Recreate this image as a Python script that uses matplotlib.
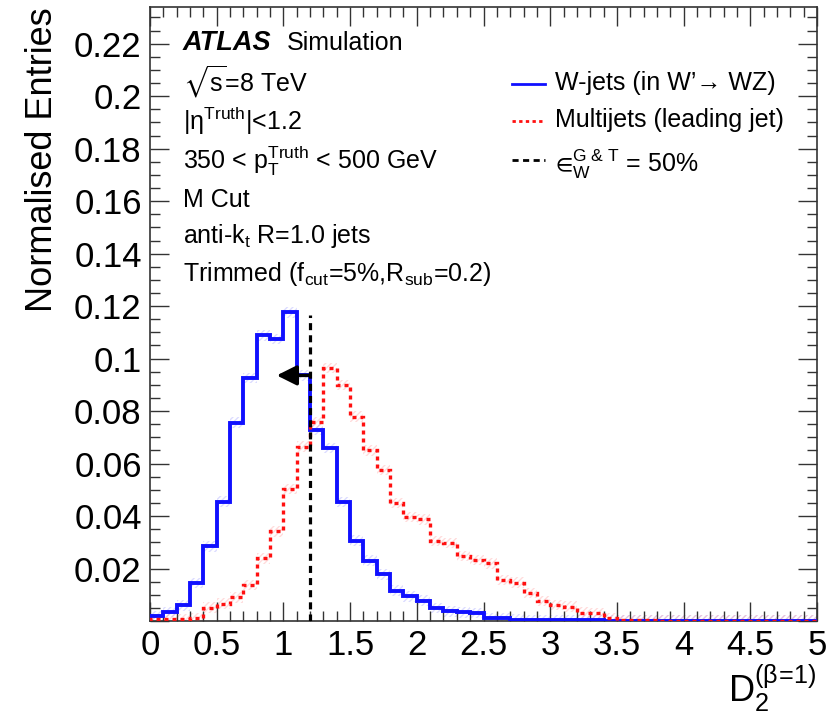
import numpy as np
import matplotlib
matplotlib.use('Agg')
import matplotlib.pyplot as plt
from matplotlib.ticker import MultipleLocator

plt.rcParams['font.family'] = ['Liberation Sans', 'DejaVu Sans']
plt.rcParams['mathtext.fontset'] = 'custom'
plt.rcParams['mathtext.rm'] = 'Liberation Sans'
plt.rcParams['mathtext.it'] = 'Liberation Sans:italic'
plt.rcParams['mathtext.bf'] = 'Liberation Sans:bold'
plt.rcParams['mathtext.fallback'] = 'stixsans'
plt.rcParams['hatch.linewidth'] = 1.0

# %% data: D2 histograms, 50 bins of 0.1 from 0 to 5
edges = np.round(np.arange(0, 5.01, 0.1), 2)

wjets = [0.0019, 0.0035, 0.0060, 0.0145, 0.0284, 0.0455, 0.0756, 0.0926, 0.1089, 0.1074,
         0.1176, 0.0936, 0.0729, 0.0660, 0.0453, 0.0306, 0.0230, 0.0178, 0.0116, 0.0094,
         0.0078, 0.0050, 0.0037, 0.0033, 0.0031, 0.0010, 0.0010, 0.0005, 0.0004, 0.0004,
         0.0004, 0.0002, 0.0002, 0.0002, 0.0001, 0.0001, 0.0001, 0.0001, 0.0001, 0.0001,
         0.0001, 0.0001, 0.0001, 0.0001, 0.0001, 0.0001, 0.0001, 0.0001, 0.0001, 0.0001]

multijets = [0.0008, 0.0007, 0.0006, 0.0010, 0.0051, 0.0066, 0.0090, 0.0137, 0.0239, 0.0342,
             0.0503, 0.0665, 0.0757, 0.0965, 0.0899, 0.0779, 0.0650, 0.0576, 0.0450, 0.0396,
             0.0387, 0.0304, 0.0298, 0.0248, 0.0233, 0.0220, 0.0156, 0.0146, 0.0106, 0.0076,
             0.0061, 0.0055, 0.0032, 0.0029, 0.0010, 0.0004, 0.0003, 0.0002, 0.0001, 0.0001,
             0.0001, 0.0001, 0.0001, 0.0001, 0.0001, 0.0001, 0.0001, 0.0001, 0.0001, 0.0001]

cut_value = 1.2      # 50% W efficiency cut
cut_top = 0.1165
arrow_y = 0.0936
arrow_end = 0.95

wjets = np.array(wjets)
multijets = np.array(multijets)
err = 0.002

# %% plot
fig = plt.figure(figsize=(8.36, 7.18), dpi=100)
ax = fig.add_axes([150 / 836, 1 - 621 / 718, 667 / 836, 614 / 718])

# faint hatched bands around the steps
ax.stairs(wjets + err, edges, baseline=wjets - err, fill=True, hatch='//////',
          facecolor='none', edgecolor=(0.55, 0.55, 1.0, 0.3), lw=0)
ax.stairs(multijets + err, edges, baseline=multijets - err, fill=True, hatch='//////',
          facecolor='none', edgecolor=(1.0, 0.55, 0.55, 0.3), lw=0)

ax.stairs(wjets, edges, color='#1010ff', lw=2.8, zorder=3)
ax.stairs(multijets, edges, color='#ff1010', lw=2.4, linestyle=(0, (1.2, 1.2)), zorder=3)

ax.vlines(cut_value, 0, cut_top, color='black', lw=2.3, linestyles=(0, (2.2, 1.6)), zorder=4)
ax.annotate('', xy=(arrow_end, arrow_y), xytext=(cut_value, arrow_y),
            arrowprops=dict(arrowstyle='-|>', lw=2.5, color='black', mutation_scale=30,
                            shrinkA=0, shrinkB=0), zorder=5)

ax.set_xlim(0, 5)
ax.set_ylim(0, 0.234)
ax.xaxis.set_major_locator(MultipleLocator(0.5))
ax.xaxis.set_minor_locator(MultipleLocator(0.1))
ax.yaxis.set_major_locator(MultipleLocator(0.02))
ax.yaxis.set_minor_locator(MultipleLocator(0.005))
ax.xaxis.set_major_formatter(plt.FuncFormatter(lambda v, p: ('%g' % v)))
ax.yaxis.set_major_formatter(plt.FuncFormatter(lambda v, p: '' if v == 0 else ('%g' % round(v, 3))))
ax.tick_params(which='both', direction='in', top=True, right=True, width=1.0, color='#333333')
ax.tick_params(which='major', length=14, labelsize=25, pad=6)
ax.tick_params(which='minor', length=7)
for s in ax.spines.values():
    s.set_color('#333333')
    s.set_linewidth(1.2)

ax.set_ylabel('Normalised Entries', fontsize=26, loc='top', labelpad=10)
ax.set_xlabel(r'$\mathrm{D}_2^{(\mathrm{β}\!=\!1)}$', fontsize=26, loc='right', labelpad=0)

# %% labels
tx = 0.0495
ax.text(tx, 0.930, 'ATLAS', transform=ax.transAxes, fontsize=19.5, weight='bold', style='italic')
ax.text(0.2054, 0.930, 'Simulation', transform=ax.transAxes, fontsize=18)
info = [r'$\sqrt{\mathrm{s}}$=8 TeV',
        r'|η$^{\mathrm{Truth}}$|<1.2',
        r'350 < $\mathrm{p}_{\mathrm{T}}^{\mathrm{Truth}}$ < 500 GeV',
        'M Cut',
        r'anti-$\mathrm{k}_{\mathrm{t}}$ R=1.0 jets',
        r'Trimmed ($\mathrm{f}_{\mathrm{cut}}$=5%,$\mathrm{R}_{\mathrm{sub}}$=0.2)']
ys = [0.862, 0.800, 0.736, 0.675, 0.616, 0.553]
for t, y in zip(info, ys):
    ax.text(tx, y, t, transform=ax.transAxes, fontsize=18, va='baseline')

# legend drawn by hand
hx = [0.543, 0.592]
ax.plot(hx, [0.875, 0.875], transform=ax.transAxes, color='#1010ff', lw=2)
ax.plot(hx, [0.814, 0.814], transform=ax.transAxes, color='#ff1010', lw=2, linestyle=(0, (1.2, 1.2)))
ax.plot(hx, [0.751, 0.751], transform=ax.transAxes, color='black', lw=2, linestyle=(0, (2.2, 1.6)))
lx = 0.607
ax.text(lx, 0.865, 'W-jets (in W’→ WZ)', transform=ax.transAxes, fontsize=18, va='baseline')
ax.text(lx, 0.804, 'Multijets (leading jet)', transform=ax.transAxes, fontsize=18, va='baseline')
ax.text(lx, 0.732, r'$∈^{\mathrm{G\ &\ T}}_{\mathrm{W}}$ = 50%', transform=ax.transAxes,
        fontsize=18, va='baseline')

fig.savefig('out.png', dpi=100)
